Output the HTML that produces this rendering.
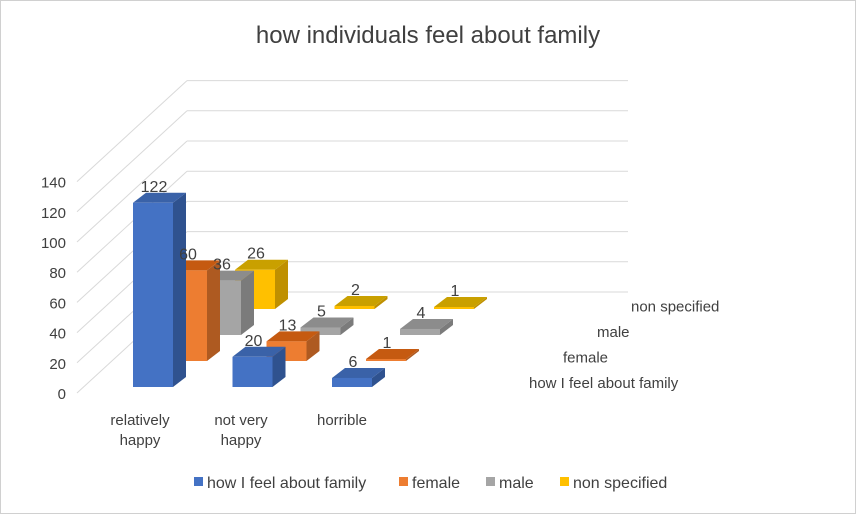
<!DOCTYPE html>
<html><head><meta charset="utf-8"><style>
body{margin:0;background:#fff}
svg{display:block;font-family:"Liberation Sans",sans-serif}
</style></head><body>
<svg id="chart" width="856" height="514" viewBox="0 0 856 514">
<rect x="0.5" y="0.5" width="855" height="513" fill="#fff" stroke="#d0d0d0"/>
<text x="428" y="43" text-anchor="middle" font-size="24" fill="#404040">how individuals feel about family</text>
<g id="grid"></g><g id="yticks"></g><g id="bars"></g><g id="labels"></g>
<g id="cats" font-size="15" fill="#404040"></g>
<g id="depth" font-size="15" fill="#404040"></g>
<g id="legend" font-size="16" fill="#404040"></g>
</svg>
<script>
const categories=["relatively happy","not very happy","horrible"];
const seriesNames=["how I feel about family","female","male","non specified"];
const sHow=[122,20,6];
const sFemale=[60,13,1];
const sMale=[36,5,4];
const sNon=[26,2,1];
const yTicks=[0,20,40,60,80,100,120,140];
const NS="http://www.w3.org/2000/svg";
const series=[sHow,sFemale,sMale,sNon];
const front=["#4472C4","#ED7D31","#A5A5A5","#FFC000"];
const side=["#2F528F","#AE5A21","#7B7B7B","#BF9000"];
const top_=["#3A62A8","#C55A11","#8C8C8C","#C9A000"];
const k=1.51;
function mk(tag,attrs,parent){const e=document.createElementNS(NS,tag);for(const a in attrs)e.setAttribute(a,attrs[a]);parent.appendChild(e);return e;}
const grid=document.getElementById('grid');
yTicks.forEach(v=>{
  const yf=393-v*k, yb=292-v*k;
  const d=mk('line',{x1:77,y1:yf,x2:187,y2:yb,stroke:'#d9d9d9'},grid);
  
  
  const h=mk('line',{x1:187,y1:yb,x2:628,y2:yb,stroke:'#d9d9d9'},grid);
  
  
  const t=mk('text',{x:66,y:yf+6,'text-anchor':'end','font-size':15,fill:'#404040'},document.getElementById('yticks'));
  t.textContent=v;
  
  
});
const bars=document.getElementById('bars'),labels=document.getElementById('labels');
const W=40,DX=13,DY=10;
for(let s=3;s>=0;s--){
  const base=387-s*26, x0=133+s*34;
  series[s].forEach((v,c)=>{
    const x=x0+c*99.5, h=Math.max(v*k,2), y=base-h;
    const g=mk('g',{},bars);
    
    
    mk('polygon',{points:`${x+W},${y} ${x+W+DX},${y-DY} ${x+W+DX},${base-DY} ${x+W},${base}`,fill:side[s]},g);
    mk('polygon',{points:`${x},${y} ${x+DX},${y-DY} ${x+W+DX},${y-DY} ${x+W},${y}`,fill:top_[s]},g);
    mk('rect',{x:x,y:y,width:W,height:h,fill:front[s]},g);
    const t=mk('text',{x:x+W/2+1,y:y-DY-1,'text-anchor':'middle','font-size':16,fill:'#404040'},labels);
    t.textContent=v;
    
    
  });
}
const cats=document.getElementById('cats');
const catLines=[["relatively","happy"],["not very","happy"],["horrible"]];
categories.forEach((c,i)=>{
  const t=mk('text',{x:140+i*101,y:425,'text-anchor':'middle'},cats);
  
  
  catLines[i].forEach((l,j)=>{const ts=mk('tspan',{x:140+i*101,dy:j?20:0},t);ts.textContent=l;});
});
const depth=document.getElementById('depth');
seriesNames.forEach((n,s)=>{
  const t=mk('text',{x:529+s*34,y:388-s*25.5},depth);
  t.textContent=n;
  
  
});
const lg=document.getElementById('legend');
const lx=[194,399,486,560];
seriesNames.forEach((n,s)=>{
  const g=mk('g',{},lg);
  
  
  mk('rect',{x:lx[s],y:477,width:9,height:9,fill:front[s]},g);
  const t=mk('text',{x:lx[s]+13,y:488},g);t.textContent=n;
});
</script>
</body></html>
